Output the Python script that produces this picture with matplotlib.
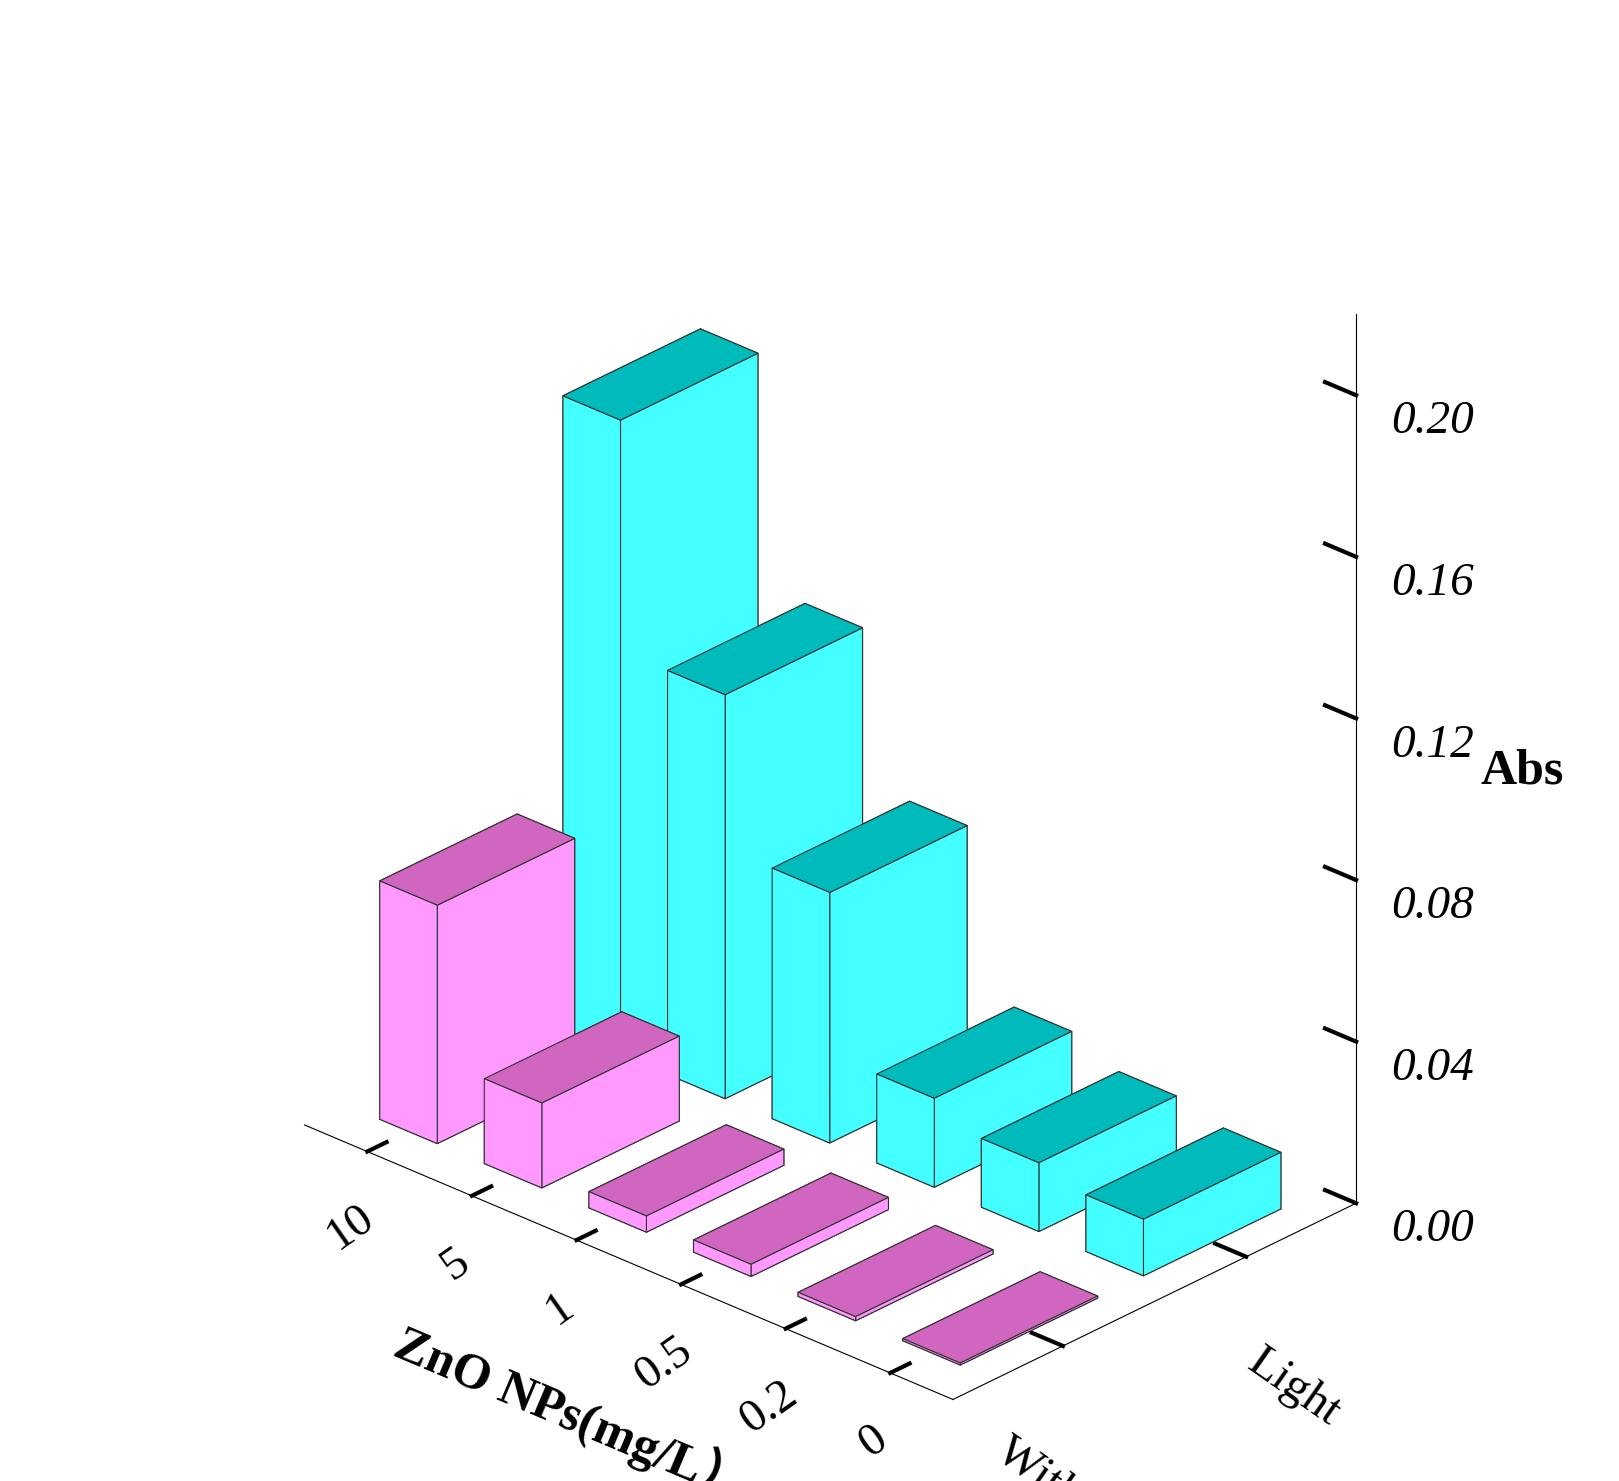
import matplotlib
matplotlib.use("Agg")
import matplotlib.pyplot as plt
import numpy as np

plt.rcParams['font.family'] = ['Liberation Serif', 'DejaVu Serif']

categories = ['10', '5', '1', '0.5', '0.2', '0']
series = ['Without Light', 'Light']
without_light = [0.059, 0.021, 0.004, 0.003, 0.001, 0.0005]
light = [0.157, 0.100, 0.062, 0.022, 0.017, 0.014]
zticks = [0.00, 0.04, 0.08, 0.12, 0.16, 0.20]

fig = plt.figure(figsize=(16.19, 14.81), dpi=100)
ax = fig.add_axes([0.0, -0.02, 1.0, 1.04], projection='3d')
ax.view_init(elev=27, azim=-47)
ax.set_proj_type('ortho')

def face_colors(front, top, n):
    cols = []
    for _ in range(n):
        cols += [front, top, front, front, front, front]
    return cols

n = len(categories)
xs = np.arange(n)
dx, dy = 0.55, 0.75
for j, (vals, fr, tp) in enumerate([(without_light, '#FF99FF', '#D066C0'),
                                    (light, '#44FFFF', '#00BBBB')]):
    ax.bar3d(xs - dx/2, np.full(n, j) - dy/2, np.zeros(n), dx, dy, vals,
             color=face_colors(fr, tp, n), edgecolor='#333333', linewidth=0.8, shade=False)

ax.set_xlim(-0.6, n - 0.4)
ax.set_ylim(-0.6, 1.6)
ax.set_zlim(0, 0.22)
ax.set_box_aspect((1.2, 0.8, 1.35), zoom=0.92)

for a in (ax.xaxis, ax.yaxis, ax.zaxis):
    a.set_pane_color((1, 1, 1, 0))
    a.pane.set_edgecolor('black')
    a.pane.set_linewidth(1.5)
    a._axinfo['grid']['linewidth'] = 0
    a._axinfo['axisline']['linewidth'] = 3
    a._axinfo['tick']['inward_factor'] = 0.0
    a._axinfo['tick']['outward_factor'] = 0.6
    a._axinfo['tick']['linewidth'] = {True: 3, False: 2}
ax.grid(False)

ax.set_xticks(xs)
ax.set_xticklabels(categories, fontsize=34, rotation=35)
ax.set_yticks([0, 1])
ax.set_yticklabels(series, fontsize=34, rotation=-35)
ax.set_zticks(zticks)
ax.set_zticklabels([f'{v:.2f}' for v in zticks], fontsize=34, style='italic')
ax.tick_params(axis='x', pad=16)
ax.tick_params(axis='y', pad=34)
ax.tick_params(axis='z', pad=34)
ax.set_xlabel('ZnO NPs(mg/L）', fontsize=36, fontweight='bold', labelpad=60,
              family=['Liberation Serif', 'Noto Sans CJK SC'])
ax.set_zlabel('Abs', fontsize=36, fontweight='bold', labelpad=70)

# choose the z-axis edge that lies on the right side
best = None
for pos in ['default', 'upper', 'lower']:
    ax.zaxis.set_ticks_position(pos)
    ax.zaxis.set_label_position(pos)
    fig.canvas.draw()
    xd = np.mean(ax.zaxis.line.get_xdata())
    if best is None or xd > best[1] + 1e-9:
        best = (pos, xd)
ax.zaxis.set_ticks_position(best[0])
ax.zaxis.set_label_position(best[0])

fig.savefig('out.png', dpi=100)
